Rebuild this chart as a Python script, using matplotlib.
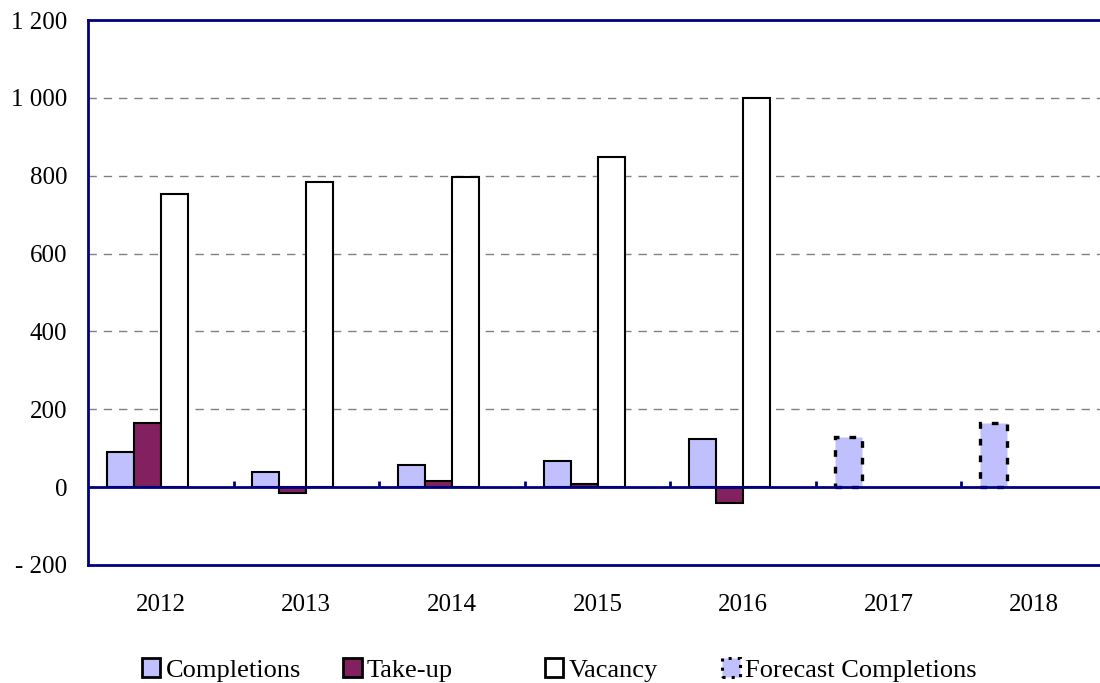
import matplotlib.pyplot as plt
from matplotlib.patches import Patch
from matplotlib.ticker import FuncFormatter
import numpy as np

plt.rcParams['font.family'] = ['Liberation Serif', 'DejaVu Serif']

years = ["2012", "2013", "2014", "2015", "2016", "2017", "2018"]
completions = [90, 38, 57, 68, 123, np.nan, np.nan]
take_up = [165, -15, 15, 8, -42, np.nan, np.nan]
vacancy = [752, 783, 796, 847, 999, np.nan, np.nan]
forecast = [np.nan, np.nan, np.nan, np.nan, np.nan, 128, 166]

navy = '#000080'
c_compl = '#C0C0FF'
c_take = '#832160'

fig = plt.figure(figsize=(11, 6.83), dpi=100)
ax = fig.add_axes([0.08, 0.1728, 0.9264, 0.7979])

x = np.arange(len(years))
w = 0.1855
ax.bar(x - 1.5 * w, completions, w, color=c_compl, edgecolor='black', linewidth=1.5, zorder=3)
ax.bar(x - 0.5 * w, take_up, w, color=c_take, edgecolor='black', linewidth=1.5, zorder=3)
ax.bar(x + 0.5 * w, vacancy, w, color='white', edgecolor='black', linewidth=1.5, zorder=3)
ax.bar(x - 1.5 * w, forecast, w, color=c_compl, edgecolor='black', linewidth=2.4,
       linestyle=(0, (2, 3)), zorder=3)

ax.set_xlim(-0.5, len(years) - 0.5)
ax.set_ylim(-200, 1200)
ax.set_yticks(np.arange(-200, 1201, 200))
ax.yaxis.set_major_formatter(FuncFormatter(
    lambda v, p: f"{int(v):,}".replace(",", " ").replace("-", "- ")))
ax.set_xticks(x)
ax.set_xticklabels(years)
ax.tick_params(axis='both', length=0, labelsize=18)
ax.tick_params(axis='x', pad=21)
ax.tick_params(axis='y', pad=15)

for v in range(200, 1001, 200):
    ax.axhline(v, color='#808080', linewidth=1, dashes=(6, 5), zorder=1)

# category axis crossing at zero, with small upward ticks between years
ax.axhline(0, color=navy, linewidth=2, zorder=4)
ax.vlines(x[:-1] + 0.5, 0, 15, color=navy, linewidth=2, zorder=4)

for s in ax.spines.values():
    s.set_color(navy)
    s.set_linewidth(2)

handles = [
    Patch(facecolor=c_compl, edgecolor='black', linewidth=2, label='Completions'),
    Patch(facecolor=c_take, edgecolor='black', linewidth=2, label='Take-up'),
    Patch(facecolor='white', edgecolor='black', linewidth=2, label='Vacancy'),
    Patch(facecolor=c_compl, edgecolor='black', linewidth=2.2, linestyle=(0, (1, 2)),
          label='Forecast Completions'),
]
# one legend per entry so the uneven spacing of the entries can be kept
for h, left in zip(handles, [0.129, 0.312, 0.495, 0.656]):
    fig.legend(handles=[h], loc='center left', bbox_to_anchor=(left, 0.019),
               frameon=False, fontsize=19, handlelength=0.7, handleheight=0.7,
               handletextpad=0.2, borderpad=0, borderaxespad=0)

fig.savefig('out.png', dpi=100)
